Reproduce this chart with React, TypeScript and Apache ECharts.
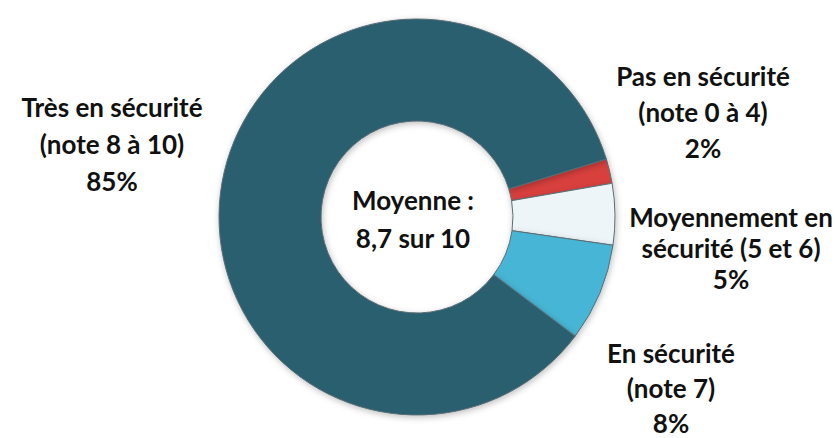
import React, { useEffect, useRef } from "react";
import * as echarts from "echarts";

const categories = [
  "Pas en sécurité\n(note 0 à 4)",
  "Moyennement en\nsécurité (5 et 6)",
  "En sécurité\n(note 7)",
  "Très en sécurité\n(note 8 à 10)",
];
const values = [2, 5, 8, 85];
const colors = ["#D8413C", "#EEF5F8", "#47B5D5", "#2A5E70"];
const centerText = "Moyenne :\n8,7 sur 10";

const labelPos = [
  { x: 703, y: 112, lh: 36 },
  { x: 731, y: 248, lh: 31 },
  { x: 671, y: 388, lh: 35 },
  { x: 112, y: 144, lh: 37 },
];

export default function App() {
  const ref = useRef<HTMLDivElement>(null);
  useEffect(() => {
    document.body.style.margin = "0";
    const chart = echarts.init(ref.current!, null, { renderer: "svg" });
    const font = "Lato, 'Open Sans', sans-serif";
    chart.setOption({
      animation: false,
      backgroundColor: "#ffffff",
      graphic: [
        {
          type: "text",
          x: 413,
          y: 219,
          style: {
            text: centerText,
            fontFamily: font,
            fontWeight: "bold",
            fontSize: 26,
            lineHeight: 38,
            fill: "#111",
            align: "center",
            verticalAlign: "middle",
          },
        },
      ],
      series: [
        {
          type: "pie",
          center: [417, 217],
          radius: [96, 198],
          startAngle: 17,
          clockwise: true,
          avoidLabelOverlap: false,
          itemStyle: {
            borderColor: "#5a6d75",
            borderWidth: 1,
            shadowBlur: 6,
            shadowColor: "rgba(0,0,0,0.25)",
            shadowOffsetX: 1,
            shadowOffsetY: 2,
          },
          label: {
            show: true,
            position: "outside",
            formatter: (p: any) => `${p.name}\n${p.value}%`,
            fontFamily: font,
            fontWeight: "bold",
            fontSize: 26,
            color: "#111",
            align: "center",
          },
          labelLine: { show: false },
          labelLayout: (p: any) => ({
            x: labelPos[p.dataIndex].x,
            y: labelPos[p.dataIndex].y,
            align: "center",
            verticalAlign: "middle",
          }),
          data: categories.map((c, i) => ({
            name: c,
            value: values[i],
            itemStyle: { color: colors[i] },
            label: { lineHeight: labelPos[i].lh },
          })),
        },
      ],
    });
    return () => chart.dispose();
  }, []);
  return <div ref={ref} style={{ width: 835, height: 438 }} />;
}
